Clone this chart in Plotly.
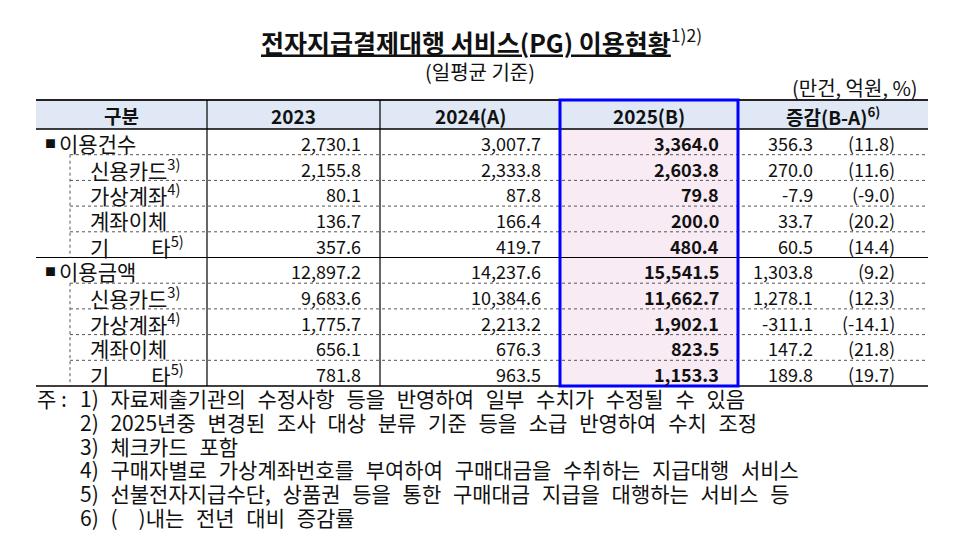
import plotly.graph_objects as go

# 전자지급결제대행 서비스(PG) 이용현황 (일평균, 만건 / 억원 / %)
header = ['구분', '2023', '2024(A)', '2025(B)', '증감(B-A)<sup>6)</sup>']

row_labels = ['이용건수', '신용카드', '가상계좌', '계좌이체', '기\u3000\u3000타',
              '이용금액', '신용카드', '가상계좌', '계좌이체', '기\u3000\u3000타']
row_notes = ['', '3)', '4)', '', '5)', '', '3)', '4)', '', '5)']
is_total = [True, False, False, False, False, True, False, False, False, False]

v2023 = [2730.1, 2155.8, 80.1, 136.7, 357.6, 12897.2, 9683.6, 1775.7, 656.1, 781.8]
v2024 = [3007.7, 2333.8, 87.8, 166.4, 419.7, 14237.6, 10384.6, 2213.2, 676.3, 963.5]
v2025 = [3364.0, 2603.8, 79.8, 200.0, 480.4, 15541.5, 11662.7, 1902.1, 823.5, 1153.3]
diff = [356.3, 270.0, -7.9, 33.7, 60.5, 1303.8, 1278.1, -311.1, 147.2, 189.8]
pct = [11.8, 11.6, -9.0, 20.2, 14.4, 9.2, 12.3, -14.1, 21.8, 19.7]

title = '전자지급결제대행 서비스(PG) 이용현황'
subtitle = '(일평균 기준)'
units = '(만건, 억원, %)'
notes = ['1) 자료제출기관의 수정사항 등을 반영하여 일부 수치가 수정될 수 있음',
         '2) 2025년중 변경된 조사 대상 분류 기준 등을 소급 반영하여 수치 조정',
         '3) 체크카드 포함',
         '4) 구매자별로 가상계좌번호를 부여하여 구매대금을 수취하는 지급대행 서비스',
         '5) 선불전자지급수단, 상품권 등을 통한 구매대금 지급을 대행하는 서비스 등',
         '6) (\u3000)내는 전년 대비 증감률']

FONT = 'Noto Sans CJK KR'
W, H = 975, 553
PAD = 8  # page body margin, so axis units equal screen pixels

# table geometry (pixel space)
col_x = [36, 207, 380, 560, 738, 928]
top, head_bot = 100, 129
row_h = (386 - head_bot) / len(row_labels)
sub_x = 70

fig = go.Figure()
shapes = []
ann = []


def txt(x, y, s, size=18, anchor='left', color='#111'):
    ann.append(dict(x=x, y=y, xref='x', yref='y', text=s, showarrow=False,
                    xanchor=anchor, yanchor='middle', borderpad=0,
                    font=dict(family=FONT, size=size, color=color)))


def line(x0, y0, x1, y1, w=1, color='#000', dash='solid'):
    shapes.append(dict(type='line', xref='x', yref='y', x0=x0, y0=y0, x1=x1, y1=y1,
                       line=dict(color=color, width=w, dash=dash)))


bottom = head_bot + row_h * len(row_labels)

# backgrounds
shapes.append(dict(type='rect', xref='x', yref='y', x0=col_x[0], x1=col_x[-1], y0=top, y1=head_bot,
                   fillcolor='#dfe8f4', line=dict(width=0), layer='below'))
shapes.append(dict(type='rect', xref='x', yref='y', x0=col_x[3], x1=col_x[4], y0=head_bot, y1=bottom,
                   fillcolor='#f8ebf3', line=dict(width=0), layer='below'))

# header
for i, h in enumerate(header):
    txt((col_x[i] + col_x[i + 1]) / 2, (top + head_bot) / 2 + 1, '<b>' + h + '</b>', size=19, anchor='center')

# rows
for i, lab in enumerate(row_labels):
    y0 = head_bot + i * row_h
    yc = y0 + row_h / 2 + 1
    if is_total[i]:
        txt(44, yc, '■', size=11)
        txt(58, yc, lab, size=21)
    else:
        s = lab + ('<sup>' + row_notes[i] + '</sup>' if row_notes[i] else '')
        txt(89, yc, s, size=21)
    txt(col_x[2] - 18, yc, f'{v2023[i]:,.1f}', anchor='right')
    txt(col_x[3] - 18, yc, f'{v2024[i]:,.1f}', anchor='right')
    txt(col_x[4] - 18, yc, f'<b>{v2025[i]:,.1f}</b>', anchor='right')
    txt(814, yc, f'{diff[i]:,.1f}', anchor='right')
    txt(896, yc, f'({pct[i]:.1f})', anchor='right')
    if i > 0 and not is_total[i]:
        line(sub_x, y0, col_x[-1], y0, w=1, color='#555', dash='dot')
    if i > 0 and is_total[i]:
        line(col_x[0], y0, col_x[-1], y0, w=1.2)

# sub-item dotted vertical guides
for g in (0, 5):
    line(sub_x, head_bot + (g + 1) * row_h, sub_x, head_bot + (g + 5) * row_h, color='#555', dash='dot')

# frame lines
line(col_x[0], top, col_x[-1], top, w=2.2, color='#222')
line(col_x[0], head_bot, col_x[-1], head_bot, w=1.3)
line(col_x[0], bottom, col_x[-1], bottom, w=1.5)
for cx in col_x[1:3]:
    line(cx, top, cx, bottom, w=1.2)
shapes.append(dict(type='rect', xref='x', yref='y', x0=col_x[3], x1=col_x[4], y0=top, y1=bottom,
                   line=dict(color='#0000ff', width=3)))

# titles
txt(481, 41, '<b><u>' + title + '</u></b><sup>1)2)</sup>', size=25, anchor='center')
txt(480, 71, subtitle, size=20, anchor='center')
txt(919, 87, units, size=20, anchor='right')

# footnotes
txt(36, 398, '주 :', size=21)
for k, n in enumerate(notes):
    txt(79, 398 + k * 23.8, '<span style="word-spacing:7px">' + n + '</span>', size=21)

fig.update_layout(
    width=W - PAD, height=H - PAD, margin=dict(l=0, r=0, t=0, b=0),
    paper_bgcolor='white', plot_bgcolor='white',
    xaxis=dict(range=[PAD, W], visible=False, fixedrange=True),
    yaxis=dict(range=[H, PAD], visible=False, fixedrange=True),
    shapes=shapes, annotations=ann, showlegend=False,
)

fig.write_html('out.html')
